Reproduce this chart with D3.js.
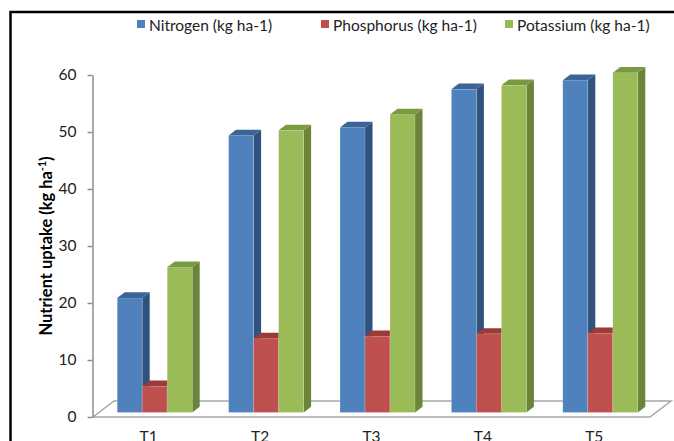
<!DOCTYPE html>
<html>
<head>
<meta charset="utf-8">
<script src="https://cdn.jsdelivr.net/npm/d3@7"></script>
<style>
  body { margin: 0; background: #fff; }
  svg { display: block; }
  text { font-family: Lato, "Liberation Sans", sans-serif; }
</style>
</head>
<body>
<div id="chart"></div>
<script>
// data
var categories = ["T1", "T2", "T3", "T4", "T5"];
var seriesNames = ["Nitrogen (kg ha-1)", "Phosphorus (kg ha-1)", "Potassium (kg ha-1)"];
var nitrogen   = [20.1, 48.6, 50.0, 56.7, 58.3];
var phosphorus = [4.6, 13.0, 13.4, 13.8, 13.9];
var potassium  = [25.5, 49.5, 52.3, 57.4, 59.6];
var yTicks = [0, 10, 20, 30, 40, 50, 60];

var width = 674, height = 441;

// front, side, top shades for each series
var shades = [
    { front: "#4f81bd", side: "#30527f", top: "#3b6497" },
    { front: "#c0504d", side: "#8a3431", top: "#9b3b38" },
    { front: "#9bbb59", side: "#6a8538", top: "#789a40" }
];

var seriesValues = [nitrogen, phosphorus, potassium];

var svg = d3.select("#chart").append("svg")
    .attr("width", width)
    .attr("height", height);

function translate(x, y){
    return "translate(" + x + "," + y + ")";
}

// outer frame (runs off right and bottom of the picture)
svg.append("rect")
    .attr("x", 10.5).attr("y", 12)
    .attr("width", 700).attr("height", 460)
    .attr("fill", "none")
    .attr("stroke", "#000")
    .attr("stroke-width", 2.5);

var xScale = d3.scaleBand().domain(categories).range([93, 650]);
var groupWidth = 75;
var inner = d3.scaleBand().domain(seriesNames).range([0, groupWidth]);
var yScale = d3.scaleLinear().domain([0, 60]).range([417, 75]);

// 3D offsets
var floorDepth = { dx: 21, dy: -16 };
var barShift = { dx: 6, dy: -4.5 };
var barDepth = { dx: 7.5, dy: -5.7 };

// floor
var x0 = xScale.range()[0], x1 = xScale.range()[1], y0 = yScale(0);
svg.append("path")
    .attr("d", "M" + x0 + "," + y0 + "L" + x1 + "," + y0 +
               "L" + (x1 + floorDepth.dx) + "," + (y0 + floorDepth.dy) +
               "L" + (x0 + floorDepth.dx) + "," + (y0 + floorDepth.dy) + "Z")
    .attr("fill", "#fff")
    .attr("stroke", "#a6a6a6")
    .attr("stroke-width", 1.5);

// y axis
var yAxis = d3.axisLeft(yScale)
    .tickValues(yTicks)
    .tickSize(5)
    .tickSizeOuter(0)
    .tickPadding(11);

var gy = svg.append("g")
    .attr("transform", translate(92.5, 0))
    .call(yAxis);
gy.select(".domain").attr("stroke", "#8c8c8c").attr("stroke-width", 1.5);
gy.selectAll(".tick line").attr("stroke", "#8c8c8c").attr("stroke-width", 1.5);
gy.selectAll(".tick text")
    .attr("fill", "#222")
    .style("font-size", "15.5px")
    .style("font-family", "Lato, 'Liberation Sans', sans-serif");

// bars
seriesNames.forEach(function(name, si){
    var c = shades[si];
    var g = svg.append("g").attr("class", "series");
    categories.forEach(function(cat, ci){
        var v = seriesValues[si][ci];
        var left = xScale(cat) + (xScale.bandwidth() - groupWidth) / 2 + inner(name) + barShift.dx;
        var right = left + inner.bandwidth();
        var top = yScale(v) + barShift.dy;
        var bottom = yScale(0) + barShift.dy;
        var dx = barDepth.dx, dy = barDepth.dy;

        g.append("path")   // side
            .attr("d", "M" + right + "," + bottom + "L" + (right + dx) + "," + (bottom + dy) +
                       "L" + (right + dx) + "," + (top + dy) + "L" + right + "," + top + "Z")
            .attr("fill", c.side);
        g.append("rect")   // front
            .attr("x", left).attr("y", top)
            .attr("width", right - left).attr("height", bottom - top)
            .attr("fill", c.front)
            .attr("stroke", "rgba(255,255,255,0.35)")
            .attr("stroke-width", 0.6);
        g.append("path")   // top
            .attr("d", "M" + left + "," + top + "L" + right + "," + top +
                       "L" + (right + dx) + "," + (top + dy) + "L" + (left + dx) + "," + (top + dy) + "Z")
            .attr("fill", c.top);
    });
});

// category labels (cut by the bottom edge, as in the source)
svg.append("g").selectAll("text")
    .data(categories)
    .enter().append("text")
    .attr("x", function(d){ return xScale(d) + xScale.bandwidth() / 2; })
    .attr("y", 442)
    .attr("text-anchor", "middle")
    .attr("fill", "#222")
    .style("font-size", "15.5px")
    .text(function(d){ return d; });

// y axis title
var title = svg.append("text")
    .attr("transform", translate(51.5, 246) + " rotate(-90)")
    .attr("text-anchor", "middle")
    .attr("fill", "#000")
    .style("font-size", "16.5px")
    .style("font-weight", "bold");
title.append("tspan").text("Nutrient uptake (kg ha");
title.append("tspan").attr("dy", -6).style("font-size", "10.5px").text("-1");
title.append("tspan").attr("dy", 6).text(")");

// legend
var legendX = [137, 321, 505];
var legend = svg.append("g").selectAll("g")
    .data(seriesNames)
    .enter().append("g")
    .attr("transform", function(d, i){ return translate(legendX[i], 20); });
legend.append("rect")
    .attr("width", 8).attr("height", 8)
    .attr("fill", function(d, i){ return shades[i].front; });
legend.append("text")
    .attr("x", 12).attr("y", 10.5)
    .attr("fill", "#222")
    .style("font-size", "15.5px")
    .text(function(d){ return d; });
</script>
</body>
</html>
